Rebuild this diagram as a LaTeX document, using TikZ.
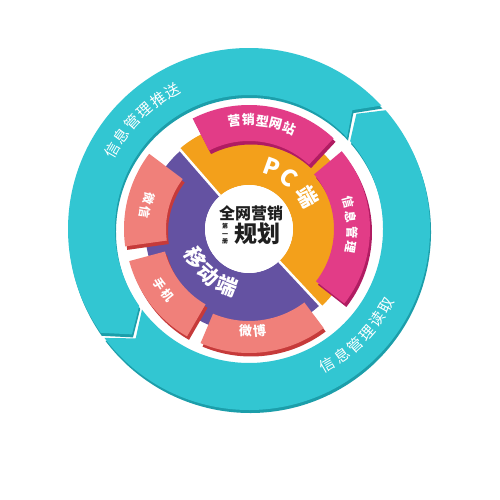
\documentclass[tikz,border=0pt]{standalone}
\usepackage{fontspec}
\newfontfamily\cjk{Noto Sans CJK SC}
\definecolor{teal1}{RGB}{50,198,210}
\definecolor{teal2}{RGB}{28,158,170}
\definecolor{orng}{RGB}{243,160,27}
\definecolor{pnk}{RGB}{226,60,135}
\definecolor{pnkd}{RGB}{176,28,98}
\definecolor{purp}{RGB}{100,82,162}
\definecolor{crl}{RGB}{240,128,122}
\definecolor{crld}{RGB}{198,58,58}
\newcommand{\annsec}[5]{\fill[#1] (#2:#5) arc[start angle=#2,end angle=#3,radius=#5] -- (#3:#4) arc[start angle=#3,end angle=#2,radius=#4] -- cycle;}
\newcommand{\blk}[6]{\begin{scope}[shift={(2,-3.5)}]\annsec{#2}{#3}{#4}{#5}{#6}\end{scope}\annsec{#1}{#3}{#4}{#5}{#6}}
\newcommand{\upband}{(43:181) arc[start angle=43,end angle=215,radius=181] -- (222:157.5) -- (215:134) arc[start angle=215,end angle=43,radius=134] -- (49:157.5) -- cycle}
\newcommand{\lowband}{(217:181) arc[start angle=217,end angle=401,radius=181] -- (407:157.5) -- (401:134) arc[start angle=401,end angle=217,radius=134] -- (224:157.5) -- cycle}
\tikzset{
  tealtxt/.style={font=\cjk\fontsize{15}{15}\selectfont, text=white, inner sep=0pt},
  blktxt/.style={font=\cjk\bfseries\fontsize{13}{13}\selectfont, text=white, inner sep=0pt},
  bigtxt/.style={font=\cjk\bfseries\fontsize{21}{21}\selectfont, text=white, inner sep=0pt},
  ctrtxt/.style={text=black!88, inner sep=0pt}
}
\begin{document}
\begin{tikzpicture}[x=1pt,y=1pt]
\useasboundingbox (0,0) rectangle (500,500);
\fill[white] (0,0) rectangle (500,500);
\begin{scope}[shift={(249,271)}]
% teal cycle arrows
\begin{scope}[shift={(1,-3)}]
\fill[teal2] \upband;
\fill[teal2] \lowband;
\end{scope}
\fill[teal1] \upband;
\fill[teal1] \lowband;
% teal texts
\foreach \ch [count=\i] in {信,息,管,理,推,送} {
  \pgfmathsetmacro\a{150-6.2*(\i-1)}
  \node[tealtxt, rotate=\a-90] (tp\i) at (\a:158) {\ch};
}
\foreach \ch [count=\i] in {信,息,管,理,读,取} {
  \pgfmathsetmacro\a{-60+6.2*(\i-1)}
  \node[tealtxt, rotate=\a+90] (tr\i) at (\a:157) {\ch};
}
% middle ring
\annsec{orng}{-47}{131}{44}{106}
\annsec{purp}{131}{313}{44}{104}
\draw[white, line width=2.5pt] (131:44) -- (131:108);
\draw[white, line width=2.5pt] (-47:44) -- (-47:108);
% blocks
\blk{pnk}{pnkd}{47}{117}{88}{124}
\blk{pnk}{pnkd}{-38}{40}{85}{121}
\blk{crl}{crld}{143}{188}{83}{125}
\blk{crl}{crld}{195}{240}{87}{124}
\blk{crl}{crld}{247}{307}{92}{124}
% center
\fill[white] (0,0) circle (44);
% block texts
\foreach \ch [count=\i] in {营,销,型,网,站} {
  \pgfmathsetmacro\a{97.8-7.45*(\i-1)}
  \node[blktxt, rotate=\a-90] (pw\i) at (\a:109) {\ch};
}
\foreach \ch [count=\i] in {信,息,管,理} {
  \pgfmathsetmacro\a{15-8.4*(\i-1)}
  \node[blktxt, font=\cjk\bfseries\fontsize{12}{12}\selectfont, rotate=\a-90] (pm\i) at (\a:103) {\ch};
}
\foreach \ch [count=\i] in {微,信} {
  \pgfmathsetmacro\a{163+7.6*(\i-1)}
  \node[blktxt, font=\cjk\bfseries\fontsize{12}{12}\selectfont, rotate=\a+90] (wx\i) at (\a:105) {\ch};
}
\foreach \ch [count=\i] in {手,机} {
  \pgfmathsetmacro\a{211.5+7.6*(\i-1)}
  \node[blktxt, font=\cjk\bfseries\fontsize{12}{12}\selectfont, rotate=\a+90] (sj\i) at (\a:105) {\ch};
}
\foreach \ch [count=\i] in {微,博} {
  \pgfmathsetmacro\a{268+8*(\i-1)}
  \node[blktxt, rotate=\a+90] (wb\i) at (\a:102) {\ch};
}
% ring titles
\node[bigtxt, font=\cjk\bfseries\fontsize{23}{23}\selectfont, rotate=-20] (pcP) at (70:66) {P};
\node[bigtxt, font=\cjk\bfseries\fontsize{23}{23}\selectfont, rotate=-38] (pcC) at (52:65) {C};
\node[bigtxt, rotate=-61] (pcD) at (29:67) {端};
\foreach \ch/\a [count=\i] in {移/208,动/228,端/249} {
  \node[bigtxt, rotate=\a+90] (yd\i) at (\a:61) {\ch};
}
% center texts
\node[ctrtxt, font=\cjk\bfseries\fontsize{16}{16}\selectfont] (qw) at (2,16) {全网营销};
\node[ctrtxt, font=\cjk\bfseries\fontsize{23}{23}\selectfont] (gh) at (8.5,-5) {规划};
\node[ctrtxt, font=\cjk\bfseries\fontsize{6}{7.5}\selectfont, align=center] (dy) at (-24,-5) {第\\一\\册};
\end{scope}
\end{tikzpicture}
\end{document}
